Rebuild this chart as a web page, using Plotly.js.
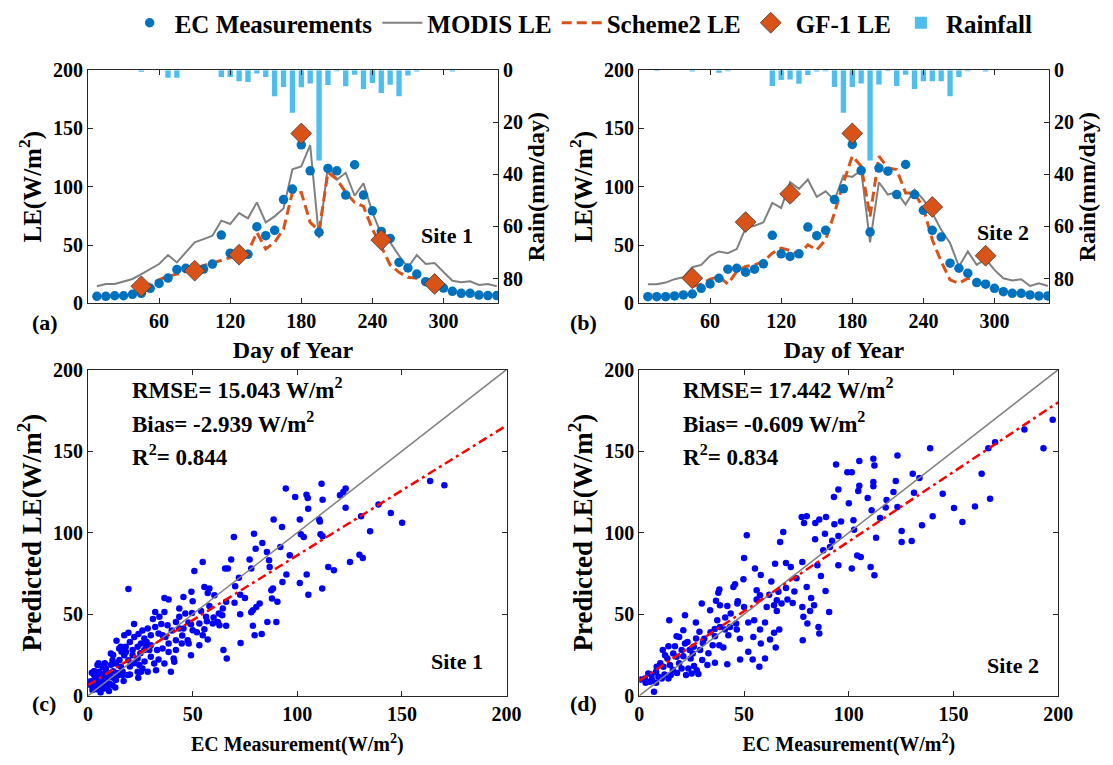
<!DOCTYPE html>
<html>
<head>
<meta charset="utf-8">
<script src="https://cdn.plot.ly/plotly-3.0.1.min.js"></script>
<style>html,body{margin:0;padding:0;background:#fff;}#chart{width:1113px;height:765px;}</style>
</head>
<body>
<div id="chart"></div>
<script>
// ---------- Time series (8-day composites) ----------
const days = [7.5,15,22.5,30,37.5,45,52.5,60,67.5,75,82.5,90,97.5,105,112.5,120,127.5,135,142.5,150,157.5,165,172.5,180,187.5,195,202.5,210,217.5,225,232.5,240,247.5,255,262.5,270,277.5,285,292.5,300,307.5,315,322.5,330,337.5,345];

const ecSite1 = [6,6,6.5,6.5,7.7,8.6,12.9,17,21.7,29,30,28.6,29.4,33.7,58.6,43,41.4,42,65.7,58,62.6,89,98,136,113.7,60.9,115.7,113.7,92.9,118.9,92.9,79.4,61.7,55.7,35.1,30.3,25.1,18.6,15.7,13.1,10.3,8.6,8.6,7.1,6.6,6.6];
const modisSite1 = [14.6,16.6,16.6,18.6,20.9,25.1,29.4,33.7,41.4,35.1,43.7,52.3,55.1,58,70.9,68,77.4,72.9,86.6,69.4,74.6,81.4,115.1,117.4,135.7,56,118,106,112,92.3,103,78,59.4,52.3,40.9,30.9,41.4,33.7,34.6,27.1,19.4,18,18.9,15.7,16.6,14.6];
const scheme2Site1 = [null,null,null,null,null,13.7,16.6,20.3,23.1,25.1,27.1,29.4,32.3,34.6,37.4,39.4,41.4,43.7,60.9,46.6,52.3,63.7,95.1,95.1,69.4,62.3,112.3,106.6,95.1,86.6,83.1,63.7,48.9,32.9,26.6,22.3,21.4,17.4,15.7,null,null,null,null,null,null,null];
const rainSite1 = [0,0,0,0,0,0.6,0,0,2.9,2.9,0,0,0,0,2.6,2.6,4.2,4.5,1.3,2.6,10,6.4,16.3,6.5,5.1,34.7,5.7,0.4,6.2,1.7,7.2,4.9,8.7,5.6,10,2.0,0.5,0,0,0,0.5,0,0,0,0,0];

const ecSite2 = [5.7,5.7,5.7,6.3,7.2,8,12.9,16.6,21.5,29.3,30.1,26.7,29.3,33.9,58.3,42.5,40.2,42.5,65.4,58,62.6,89,98.2,136.3,113.9,61.1,116,113.4,93.3,119.1,93.3,79.8,62.6,56.8,34.4,30.1,25.8,17.8,16.4,12.9,10,8.6,8.6,7.2,6.3,6.3];
const modisSite2 = [16.4,16.4,17.8,20.7,22.4,31,33,40.8,44.5,43,46.5,64.6,66.6,69.5,86.1,81.8,103.9,98.2,106.2,91.3,96.1,88.4,109.6,108.5,114.2,52.2,103.9,93.3,95.3,84.7,97.6,89,77.5,63.1,51.7,31.6,44.5,33,37.9,28.7,21.5,19.5,20.7,14.9,17.2,14.9];
const scheme2Site2 = [null,null,null,null,null,14.4,16.4,20.7,23,16.6,27.3,31.6,33,35.9,43,47.4,45.3,41.6,50.2,45.9,54.5,77.5,103.3,126.3,117.7,74.6,126.3,116.2,114.8,94.7,94.7,81.8,54.5,35.9,20.1,17.2,21.5,19.5,14.9,null,null,null,null,null,null,null];
const rainSite2 = [0,0.3,0,0,0,0.5,0,0,1.0,0.4,0,0,0,0,6.1,3.8,3.6,5.2,1.8,0.5,0.4,6.4,16.3,6.4,5.1,34.7,5.5,0.3,6.1,1.7,7.2,4.2,4.2,4.2,10,2.6,0.4,0,0.5,0,0,0,0,0,0,0];

const gfDays = [45,90,127.5,180,247.5,292.5];
const gfSite1 = [14.6,28,41.7,145.7,54.3,16.6];
const gfSite2 = [21.5,69.7,93.9,145.8,82.7,40.8];

const dayTicks = [60,120,180,240,300];
const leTicks = [0,50,100,150,200];
const rainTicks = [0,20,40,60,80];
const scTicks = [0,50,100,150,200];

// ---------- Scatter: EC measurement vs predicted LE ----------
const ecObs1 = [163.5,170.3,111.6,94.5,123.1,122,120.4,99,104.4,105,112.1,105.2,123.1,138.8,144.7,150.1,134.8,130.5,110.5,110.8,101.2,88.7,92.7,69.7,79.3,101.7,103.1,111.1,112.1,83.3,91.9,80.1,85.5,96.4,68.4,77.2,86.5,54.8,78,65.5,66.8,50.8,86.8,114.8,117.5,125.2,129.7,131.3,94.8,104.5,72.1,92.9,101.2,88.4,111.9,105.3,19.3,49.4,55.6,57.2,58,70.3,72.7,60.4,87.6,87.9,90.5,82,80.4,78.8,78,72.7,66,64.4,62.5,64.1,62,59.6,62.8,56.4,56.8,55.6,54.8,57.2,53.2,78.8,79.6,83,85.7,90,72.9,64.7,66.3,43.6,36.5,38.5,45.6,49.7,46.5,43.6,42,49.2,53.2,50,45.6,43.6,42,44.8,47.6,48.1,49.2,40.9,41.2,39.6,36.5,34.1,32.1,38,33.7,35.6,32.1,28.5,30,26.9,25.3,27.7,24.1,22.1,17.3,19.3,13.6,15.7,18.1,21.3,23.7,21.3,23.7,26.9,29.3,35.6,38.5,38.5,36.5,31.6,33.7,24.5,26,28.5,25.3,32.5,23.7,19.3,17.3,14.9,10.9,11.7,13.3,15.7,16.5,14.5,12.5,10.1,8.5,6.9,4.5,5.3,2.9,1.8,0.5,3.7,6.9,8.5,6.1,3.7,2.1,7.7,10.1,13.3,10.9,16.5,18.9,5.3,4.5,1.3,11.7,12,9,7,4,2,15,20,22,27,30,18,20,11,14,8,5,3,6,9,25,30,33,28,40,37,45,42,48,52,58,60,66,70,75,50,54,35,31,26,22,16,12,13,17,20,24,8,3,10,5];
const predLE1 = [131.6,129,130,127.1,127.1,124.9,122.9,121.8,123.3,121.2,120.2,114.7,115.3,117.3,112,106.1,100.8,110,108,106.9,108,108,103.5,97.3,99.4,99,97.3,99,97.8,93.7,91.2,90.2,88.2,86.1,83.5,83.5,83.1,82,78,78,78,76.5,79,79,77,82,86.5,84.5,74.3,74.3,72.4,69.8,69.2,65.7,65.7,62,65.5,63.7,66.7,63,65.7,67.1,62,61.6,64.7,59.6,57.6,56.5,54.5,52.4,51.2,50,57.6,53.5,50.4,49.4,45.3,44.3,43.3,48.4,45.7,40.8,37.1,34.5,31,42.9,37.1,37.8,45.3,45.3,32.4,28,22.9,53.5,60,59,60.6,50.8,50.4,48.4,45.3,43.9,44.3,40.2,41.2,41.2,34.1,32,34.1,32,24.9,22.9,20.8,14.7,51.4,48.4,51.4,43.3,38.2,37.1,42.2,41.2,37.1,35.1,32,31,37.8,36.1,37.1,38.6,33.7,30,26.9,28,30,24.9,22.9,28,28,29,32,26.9,19.8,19.8,22.2,18.8,16.7,14.7,14.7,15.7,14.7,21.8,24.9,29,25.9,21.8,19.8,17.8,14.7,12.7,10.6,13.7,16.7,17.8,18.8,14.7,12.7,14.1,8.6,9.6,10.6,8.6,5.5,5.5,3.5,4.5,7.6,9.6,11.6,12.7,12.7,11.6,7.6,6.5,6.5,15,12,8,4,9,22,18,20,21,24,30,33,19,14,20,11,15,2,6,26,31,28,33,40,36,37,28,45,39,55,48,43,57,60,58,52,44,47,40,44,27,25,5,9,13,11,14,15,3,20];

const ecObs2 = [197.3,192.9,183.8,169.8,166.6,138.8,123.2,111.7,105,112.2,93.9,99.3,101.4,130.5,133.7,163.4,122.4,111.7,111.7,105,95,104.5,92.9,109,121.3,131.1,144.8,167.4,160.2,150.2,154.2,123.2,117.6,110.9,114.9,134.9,102.2,96.3,93.1,89.1,85.9,77.5,79.9,78.6,88.6,83.9,102.5,113,125.2,125.2,130,68.7,67.2,51.3,87.8,91,86.7,88.9,95,101.4,105.7,110.4,112.2,77.8,79.9,72.3,70,64.8,55.2,50,49.7,56,57.6,45.7,44.9,38.2,37.7,36.6,33.8,29.8,38.5,43.6,46.8,50,56,60.8,64.3,65.6,66.4,67.9,70.7,73.2,77.8,78.3,80.2,81.5,83.4,85.5,85.9,90.6,65.6,64.3,62.4,65.1,66.8,57.6,54.8,54.4,57.3,54.1,60,48.1,78,46.5,46.2,43.3,40.9,42.5,40.1,38.2,35,36.1,38.5,37.2,36.1,32.5,42,28.7,27.1,30.3,29,25.5,24.5,26.1,27.4,28.2,25,22.3,23.4,21,21.8,20.2,21,17.8,21.8,14.3,17,16.2,17.8,13.9,11.2,12.3,13.4,14.6,11.5,15,13.9,10.7,8.3,8,9.1,5.9,4.3,2.7,0.7,5.1,8,7,20.2,23,26,19,16,12,10,6,3,18,30,33,36,41,48,52,60,70,74,62,47,42,31,34,24,19,27,58,63,82,75,92,84,100,118,140,95,104,85,58,52];
const predLE2 = [169.2,151.8,163.3,155.5,151.8,151.8,147.3,145.3,143.9,141.2,141.8,137.1,137.1,136.1,133.5,136.1,131.6,131,128.4,128.8,126.5,125.5,121.8,121.2,124.9,124.5,123.9,120.8,116.1,115.1,106.5,115.7,115.5,113.7,109,104.5,107.6,106.9,105.1,109.6,108,109.6,110,105.9,99.4,95.9,101.8,96.9,101,94.3,94.9,100.4,94.3,98.4,89.2,91.2,73.5,64.3,80,78,85.1,79,73.9,82,66.7,79,81.4,81,78,84.5,71.4,64.7,61.6,68.4,66.7,65.1,63.1,58.2,52.4,56.5,55.5,50.4,56.5,54.5,59,54.5,55.5,58.6,63.7,56.5,59,56.9,54.5,48.4,44.3,52,55.5,42.2,38.2,51.4,52,38.6,34.5,29.6,40.6,40.6,46.3,36.1,17.8,22.2,22.9,22.2,34.1,40.6,44.3,42.2,40.6,37.1,29.6,31,31,36.5,42.2,46.3,20.2,18.8,19.4,39.2,35.1,32.4,28,25.9,22.9,18.2,15.7,13.3,13.7,12.7,16.7,24.3,32,28,40.2,36.5,49.4,46.3,30.4,25.9,23.9,30.4,28,24.9,22.9,18.8,17.8,12.7,10.6,10.6,17.8,14.7,11.6,12.7,13.7,10.6,10,8.6,8,2.4,16.7,33,30,20,16,13,20,10,8,14,22,26,41,48,35,45,45,66,64,62,58,55,35,39,28,36,45,74,70,60,72,95,106,118,120,110,98,86,80,32,27];

// regression fits (slope, intercept)
const fitSite1 = [0.796, 6.5];
const fitSite2 = [0.854, 9.2];
const lineRange = [0, 200];

const statsSite1 = ['RMSE= 15.043 W/m<sup>2</sup>', 'Bias= -2.939 W/m<sup>2</sup>', 'R<sup>2</sup>= 0.844'];
const statsSite2 = ['RMSE= 17.442 W/m<sup>2</sup>', 'Bias= -0.609 W/m<sup>2</sup>', 'R<sup>2</sup>= 0.834'];

// ---------- styles ----------
const FONT = 'Liberation Serif, serif';
const C_EC = '#0072BD', C_MODIS = '#808080', C_S2 = '#D95319', C_RAIN = '#4DBEEE';

function tsTraces(xa, ya, yr, ec, modis, s2, gf, rain, show) {
  return [
    {type:'bar', x: days, y: rain, xaxis: xa, yaxis: yr, width: 4.5, marker:{color:C_RAIN, line:{width:0}}, name:'Rainfall', showlegend:false, legendrank:5},
    {type:'scatter', mode:'lines', x: days, y: modis, xaxis: xa, yaxis: ya, line:{color:C_MODIS, width:2}, name:'MODIS LE', showlegend: show, legendrank:2},
    {type:'scatter', mode:'lines', x: days, y: s2, xaxis: xa, yaxis: ya, line:{color:C_S2, width:3, dash:'10px,5px'}, name:'Scheme2 LE', showlegend: show, legendrank:3},
    {type:'scatter', mode:'markers', x: days, y: ec, xaxis: xa, yaxis: ya, marker:{color:C_EC, size:9.5}, name:'EC Measurements', showlegend: show, legendrank:1},
    {type:'scatter', mode:'markers', x: gfDays, y: gf, xaxis: xa, yaxis: ya, marker:{color:C_S2, size:16, symbol:'diamond', line:{color:'#3a3a3a', width:0.8}}, name:'GF-1 LE', showlegend: show, legendrank:4}
  ];
}
function scTraces(xa, ya, obs, pred, fit) {
  return [
    {type:'scatter', mode:'markers', x: obs, y: pred, xaxis: xa, yaxis: ya, marker:{color:'#0000FF', size:6.5}, showlegend:false},
    {type:'scatter', mode:'lines', x: lineRange, y: lineRange, xaxis: xa, yaxis: ya, line:{color:'#808080', width:1.5}, showlegend:false},
    {type:'scatter', mode:'lines', x: lineRange, y: lineRange.map(v => fit[1] + fit[0]*v), xaxis: xa, yaxis: ya, line:{color:'#FF0000', width:2.5, dash:'9px,4px,3px,4px'}, showlegend:false}
  ];
}

const rainLegend = {type:'bar', x:[null], y:[null], xaxis:'x', yaxis:'y2', marker:{color:C_RAIN}, name:'Rainfall', showlegend:true, legendrank:5};

const data = [].concat(
  tsTraces('x','y','y2', ecSite1, modisSite1, scheme2Site1, gfSite1, rainSite1, true),
  tsTraces('x2','y3','y4', ecSite2, modisSite2, scheme2Site2, gfSite2, rainSite2, false),
  scTraces('x3','y5', ecObs1, predLE1, fitSite1),
  scTraces('x4','y6', ecObs2, predLE2, fitSite2),
  [rainLegend]
);

const tickFont = {family: FONT, size: 20, color:'#000', weight:'bold'};
const titleFont = {family: FONT, size: 24, color:'#000', weight:'bold'};
const yTitleFont = {family: FONT, size: 25, color:'#000', weight:'bold'};
const scYTitleFont = {family: FONT, size: 27, color:'#000', weight:'bold'};
const scXTitleFont = {family: FONT, size: 20, color:'#000', weight:'bold'};
function ax(extra) {
  return Object.assign({showline:true, linecolor:'#262626', linewidth:1, ticks:'inside', ticklen:5, tickcolor:'#262626',
    showgrid:false, zeroline:false, tickfont: tickFont, automargin:false, fixedrange:true}, extra);
}

const yTop = [0.6043, 0.9094];
const yBot = [0.0906, 0.5176];

const layout = {
  width:1113, height:765, margin:{l:0,r:0,t:0,b:0}, paper_bgcolor:'#fff', plot_bgcolor:'rgba(0,0,0,0)',
  font:{family: FONT, size:20, color:'#000', weight:'bold'},
  showlegend:true, barmode:'overlay',
  legend:{orientation:'h', x:0.112, xanchor:'left', y:0.971, yanchor:'middle', font:{family:FONT, size:25, color:'#000', weight:'bold'}, bgcolor:'rgba(0,0,0,0)', traceorder:'normal', itemwidth:40},
  xaxis: ax({domain:[0.0791,0.4474], anchor:'y', range:[0,346], tickvals: dayTicks, mirror:'ticks', title:{text:'Day of Year', font:titleFont, standoff:9}}),
  yaxis: ax({domain:yTop, anchor:'x', range:[0,200], tickvals: leTicks, title:{text:'LE(W/m<sup>2</sup>)', font:yTitleFont, standoff:4}}),
  yaxis2: ax({overlaying:'y', side:'right', anchor:'x', range:[89.5,0], tickvals: rainTicks, title:{text:'Rain(mm/day)', font:titleFont, standoff:4}}),
  xaxis2: ax({domain:[0.5741,0.9425], anchor:'y3', range:[0,346], tickvals: dayTicks, mirror:'ticks', title:{text:'Day of Year', font:titleFont, standoff:9}}),
  yaxis3: ax({domain:yTop, anchor:'x2', range:[0,200], tickvals: leTicks, title:{text:'LE(W/m<sup>2</sup>)', font:yTitleFont, standoff:4}}),
  yaxis4: ax({overlaying:'y3', side:'right', anchor:'x2', range:[89.5,0], tickvals: rainTicks, title:{text:'Rain(mm/day)', font:titleFont, standoff:4}}),
  xaxis3: ax({domain:[0.0791,0.4551], anchor:'y5', range:[0,200], tickvals: scTicks, mirror:'ticks', title:{text:'EC Measurement(W/m<sup>2</sup>)', font:scXTitleFont, standoff:13}}),
  yaxis5: ax({domain:yBot, anchor:'x3', range:[0,200], tickvals: scTicks, mirror:'ticks', title:{text:'Predicted LE(W/m<sup>2</sup>)', font:scYTitleFont, standoff:3}}),
  xaxis4: ax({domain:[0.5744,0.9509], anchor:'y6', range:[0,200], tickvals: scTicks, mirror:'ticks', title:{text:'EC Measurement(W/m<sup>2</sup>)', font:scXTitleFont, standoff:13}}),
  yaxis6: ax({domain:yBot, anchor:'x4', range:[0,200], tickvals: scTicks, mirror:'ticks', title:{text:'Predicted LE(W/m<sup>2</sup>)', font:scYTitleFont, standoff:3}}),
  annotations: []
};

const annFont = {family: FONT, size: 22, color:'#000', weight:'bold'};
const statFont = {family: FONT, size: 23, color:'#000', weight:'bold'};
function addStats(xr, yr, lines) {
  const ys = [188.4, 167.7, 147.4];
  lines.forEach((t, k) => layout.annotations.push({xref:xr, yref:yr, x:20, y:ys[k], text:t, showarrow:false, xanchor:'left', yanchor:'middle', font:statFont}));
}
addStats('x3','y5', statsSite1);
addStats('x4','y6', statsSite2);
layout.annotations.push(
  {xref:'x', yref:'y', x:303, y:58, text:'Site 1', showarrow:false, font:annFont},
  {xref:'x2', yref:'y3', x:307, y:61, text:'Site 2', showarrow:false, font:annFont},
  {xref:'x3', yref:'y5', x:176.4, y:20.8, text:'Site 1', showarrow:false, font:annFont},
  {xref:'x4', yref:'y6', x:178.4, y:18.8, text:'Site 2', showarrow:false, font:annFont},
  {xref:'paper', yref:'paper', x:30/1113, y:1-322/765, text:'(a)', showarrow:false, font:annFont},
  {xref:'paper', yref:'paper', x:583/1113, y:1-322/765, text:'(b)', showarrow:false, font:annFont},
  {xref:'paper', yref:'paper', x:30/1113, y:1-718/765, text:'(c)', showarrow:false, font:annFont},
  {xref:'paper', yref:'paper', x:583/1113, y:1-718/765, text:'(d)', showarrow:false, font:annFont}
);

Plotly.newPlot('chart', data, layout, {staticPlot:true, displayModeBar:false});
</script>
</body>
</html>
